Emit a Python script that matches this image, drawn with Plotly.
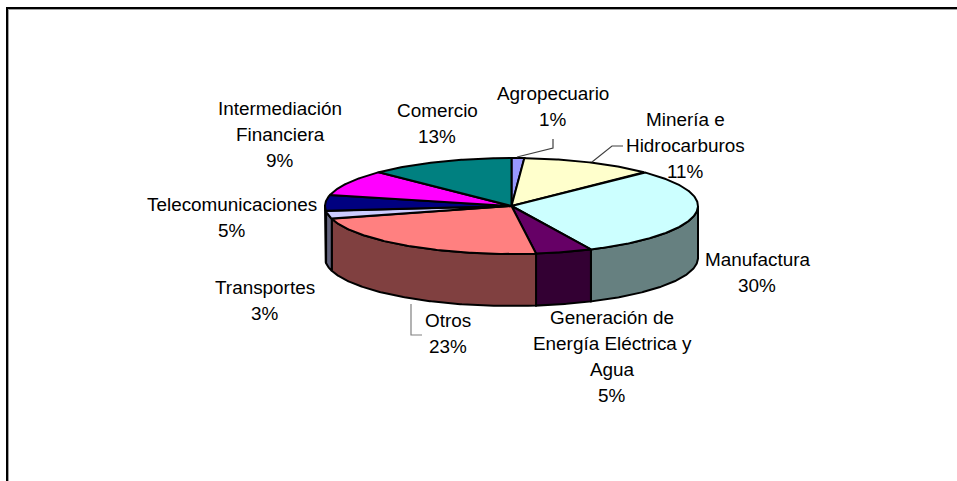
import numpy as np
import plotly.graph_objects as go

# Data
categories = ["Agropecuario", "Minería e Hidrocarburos", "Manufactura",
              "Generación de Energía Eléctrica y Agua", "Otros", "Transportes",
              "Telecomunicaciones", "Intermediación Financiera", "Comercio"]
values = [1.1, 11.49, 30.41, 4.9, 22.8, 2.6, 5.4, 8.7, 12.6]
top_colors = ["#9999FF", "#FFFFCC", "#CCFFFF", "#660066", "#FF8080",
              "#CCCCFF", "#000080", "#FF00FF", "#008080"]
side_colors = ["#4D4D80", "#808066", "#668080", "#330033", "#804040",
               "#666680", "#000040", "#800080", "#004040"]
label_lines = [["Agropecuario"], ["Minería e", "Hidrocarburos"], ["Manufactura"],
               ["Generación de", "Energía Eléctrica y", "Agua"], ["Otros"], ["Transportes"],
               ["Telecomunicaciones"], ["Intermediación", "Financiera"], ["Comercio"]]

# Layout (pixel-based axes)
W, H = 957, 481
CX, CY, RX, RY, DEPTH = 511.5, 206, 186.5, 48, 52
FONT = dict(family="Liberation Sans, Arial, sans-serif", size=18.9, color="#000000")
LINE_H = 26.3
label_pos = [(553, 93), (685, 119), (757, 259), (612, 317), (448, 320),
             (265, 287), (232, 204), (280, 108), (437, 110)]
leaders = [([517, 553, 553], [157, 148, 139], "#404040"),
           ([592, 612, 623], [162, 146, 146], "#404040"),
           ([411, 411, 422], [304, 335, 335], "#808080")]


def arc(a, b, dy=0.0):
    t = np.radians(np.linspace(a, b, max(int(abs(b - a) * 2), 2) + 1))
    return CX + RX * np.sin(t), CY + dy - RY * np.cos(t)


fig = go.Figure()
deg = np.array(values, dtype=float) / sum(values) * 360
ends = np.cumsum(deg)
starts = ends - deg

# Side walls (only the front half of the disc is visible)
for name, a, b, col in zip(categories, starts, ends, side_colors):
    a2, b2 = max(a, 90), min(b, 270)
    if b2 <= a2:
        continue
    x1, y1 = arc(a2, b2)
    x2, y2 = arc(b2, a2, DEPTH)
    fig.add_trace(go.Scatter(x=np.r_[x1, x2, x1[0]], y=np.r_[y1, y2, y1[0]], mode="lines",
                             fill="toself", fillcolor=col, name=name,
                             line=dict(color="#000000", width=2), hoverinfo="skip"))

# Top faces
for name, a, b, col in zip(categories, starts, ends, top_colors):
    x1, y1 = arc(a, b)
    fig.add_trace(go.Scatter(x=np.r_[CX, x1, CX], y=np.r_[CY, y1, CY], mode="lines",
                             fill="toself", fillcolor=col, name=name,
                             line=dict(color="#000000", width=2), hoverinfo="skip"))

# Leader lines
for lx, ly, c in leaders:
    fig.add_trace(go.Scatter(x=lx, y=ly, mode="lines", line=dict(color=c, width=1.2),
                             hoverinfo="skip"))

# Labels: one annotation per line so the wide line spacing can be matched
for lines, v, (px, py) in zip(label_lines, values, label_pos):
    for i, text in enumerate(lines + [f"{v:.0f}%"]):
        fig.add_annotation(x=px, y=py + i * LINE_H, text=text, showarrow=False,
                           xanchor="center", yanchor="middle", font=FONT)

# Chart frame (only the top and left edges are inside the picture)
shapes = [
    dict(type="line", x0=7, x1=W, y0=9.5, y1=9.5, line=dict(color="#A0A0A0", width=1)),
    dict(type="line", x0=8.5, x1=8.5, y0=9, y1=H, line=dict(color="#A0A0A0", width=1)),
    dict(type="line", x0=6, x1=W, y0=8, y1=8, line=dict(color="#000000", width=2)),
    dict(type="line", x0=7, x1=7, y0=7, y1=H, line=dict(color="#000000", width=2)),
]

fig.update_layout(
    width=W, height=H, margin=dict(l=0, r=0, t=0, b=0), showlegend=False,
    paper_bgcolor="#FFFFFF", plot_bgcolor="#FFFFFF", shapes=shapes,
    xaxis=dict(range=[0, W], visible=False, fixedrange=True),
    yaxis=dict(range=[H, 0], visible=False, fixedrange=True),
)
fig.write_html("out.html", config=dict(displayModeBar=False),
               post_script="document.body.style.margin='0';document.body.style.overflow='hidden';")
